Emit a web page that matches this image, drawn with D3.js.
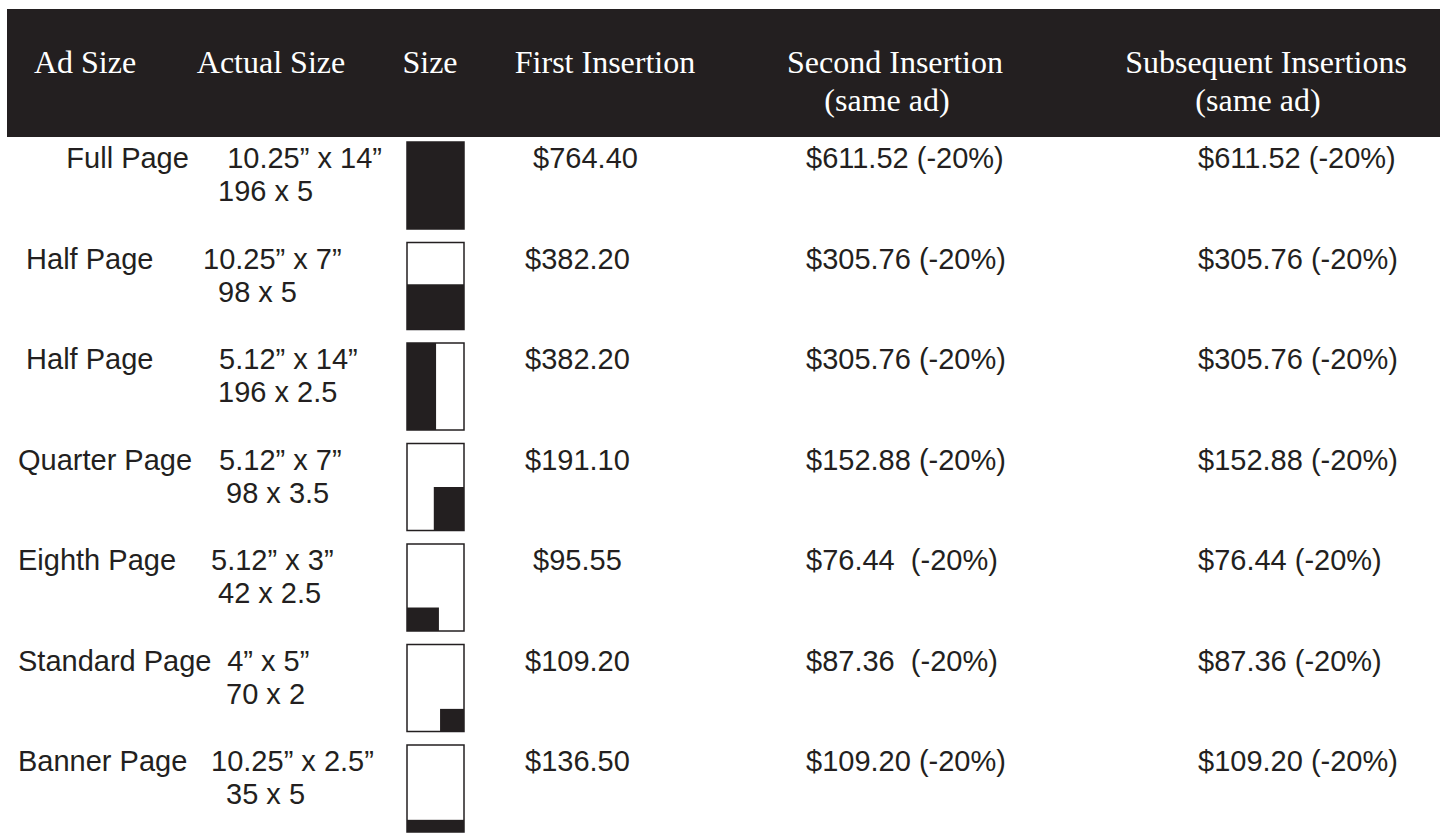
<!DOCTYPE html>
<html>
<head>
<meta charset="utf-8">
<script src="https://cdn.jsdelivr.net/npm/d3@7"></script>
<style>
	html, body { margin: 0; padding: 0; background: #fff; }
	svg { display: block; }
	.hdr { font-family: "Liberation Serif", "Times New Roman", serif; font-size: 32px; fill: #fff; }
	.cell { font-family: "Liberation Sans", Arial, sans-serif; font-size: 29px; fill: #231f20; white-space: pre; }
</style>
</head>
<body>
<div id="chart"></div>
<script>

// header labels (one array per line)
var headerLine1 = ["Ad Size", "Actual Size", "Size", "First Insertion", "Second Insertion", "Subsequent Insertions"];
var headerLine2 = ["", "", "", "", "(same ad)", "(same ad)"];

// row data (leading spaces kept as in the original layout)
var adSizes = ["      Full Page", " Half Page", " Half Page", "Quarter Page", "Eighth Page", "Standard Page", "Banner Page"];
var actualInches = ["   10.25\u201d x 14\u201d", "10.25\u201d x 7\u201d", "  5.12\u201d x 14\u201d", "  5.12\u201d x 7\u201d", " 5.12\u201d x 3\u201d", "   4\u201d x 5\u201d", " 10.25\u201d x 2.5\u201d"];
var actualColumns = ["196 x 5", "98 x 5", "196 x 2.5", " 98 x 3.5", "42 x 2.5", " 70 x 2", " 35 x 5"];
var firstInsertion = [" $764.40", "$382.20", "$382.20", "$191.10", " $95.55", "$109.20", "$136.50"];
var secondInsertion = ["$611.52 (-20%)", "$305.76 (-20%)", "$305.76 (-20%)", "$152.88 (-20%)", "$76.44  (-20%)", "$87.36  (-20%)", "$109.20 (-20%)"];
var subsequentInsertion = ["$611.52 (-20%)", "$305.76 (-20%)", "$305.76 (-20%)", "$152.88 (-20%)", "$76.44 (-20%)", "$87.36 (-20%)", "$109.20 (-20%)"];

// filled part of the page icon, as fractions of the page: [x0, y0, x1, y1]
var iconFill = [
	[0, 0, 1, 1],
	[0, 0.48, 1, 1],
	[0, 0, 0.51, 1],
	[0.47, 0.5, 1, 1],
	[0, 0.73, 0.56, 1],
	[0.58, 0.74, 1, 1],
	[0, 0.86, 1, 1]
];


var W = 1440, H = 834;
var ink = "#231f20";

var svg = d3.select("#chart").append("svg")
	.attr("width", W)
	.attr("height", H);

// header band
svg.append("rect")
	.attr("x", 7)
	.attr("y", 9)
	.attr("width", W - 7)
	.attr("height", 128)
	.attr("fill", ink);

var headerX = d3.scaleOrdinal()
	.domain(headerLine1)
	.range([85, 271, 430, 605, 895, 1266]);

var hdr = svg.append("g").attr("class", "headers");

hdr.selectAll("text.l1")
	.data(headerLine1)
	.enter().append("text")
	.attr("class", "hdr l1")
	.attr("text-anchor", "middle")
	.attr("x", function(d) { return headerX(d) })
	.attr("y", 73)
	.text(function(d) { return d });

hdr.selectAll("text.l2")
	.data(headerLine2.map(function(t, i) { return {t: t, col: headerLine1[i]} }).filter(function(d) { return d.t }))
	.enter().append("text")
	.attr("class", "hdr l2")
	.attr("text-anchor", "middle")
	.attr("x", function(d) { return headerX(d.col) - 8 })
	.attr("y", 111)
	.text(function(d) { return d.t });


// rows
var rowIdx = d3.range(adSizes.length);
var y = d3.scalePoint()
	.domain(rowIdx)
	.range([168, 771]);

var lineGap = 33;

var rows = svg.append("g").attr("class", "rows")
	.selectAll("g.row")
	.data(rowIdx)
	.enter().append("g")
	.attr("class", "row")
	.attr("transform", function(i) { return "translate(0," + y(i) + ")" });

rows.append("text")
	.attr("class", "cell")
	.attr("x", 18)
	.text(function(i) { return adSizes[i] });

rows.append("text")
	.attr("class", "cell")
	.attr("x", 203)
	.text(function(i) { return actualInches[i] });

rows.append("text")
	.attr("class", "cell")
	.attr("x", 218)
	.attr("y", lineGap)
	.text(function(i) { return actualColumns[i] });

rows.append("text")
	.attr("class", "cell")
	.attr("x", 525)
	.text(function(i) { return firstInsertion[i] });

rows.append("text")
	.attr("class", "cell")
	.attr("x", 806)
	.text(function(i) { return secondInsertion[i] });

rows.append("text")
	.attr("class", "cell")
	.attr("x", 1198)
	.text(function(i) { return subsequentInsertion[i] });


// page icons
var iconW = 57, iconH = 87;
var ix = d3.scaleLinear().domain([0, 1]).range([0, iconW]);
var iy = d3.scaleLinear().domain([0, 1]).range([0, iconH]);

var icons = rows.append("g")
	.attr("class", "icon")
	.attr("transform", "translate(407,-26)");

icons.append("rect")
	.attr("width", ix(1))
	.attr("height", iy(1))
	.attr("fill", "#fff")
	.attr("stroke", ink)
	.attr("stroke-width", 1.5);

icons.append("rect")
	.attr("x", function(i) { return ix(iconFill[i][0]) })
	.attr("y", function(i) { return iy(iconFill[i][1]) })
	.attr("width", function(i) { return ix(iconFill[i][2]) - ix(iconFill[i][0]) })
	.attr("height", function(i) { return iy(iconFill[i][3]) - iy(iconFill[i][1]) })
	.attr("fill", ink);

</script>
</body>
</html>
